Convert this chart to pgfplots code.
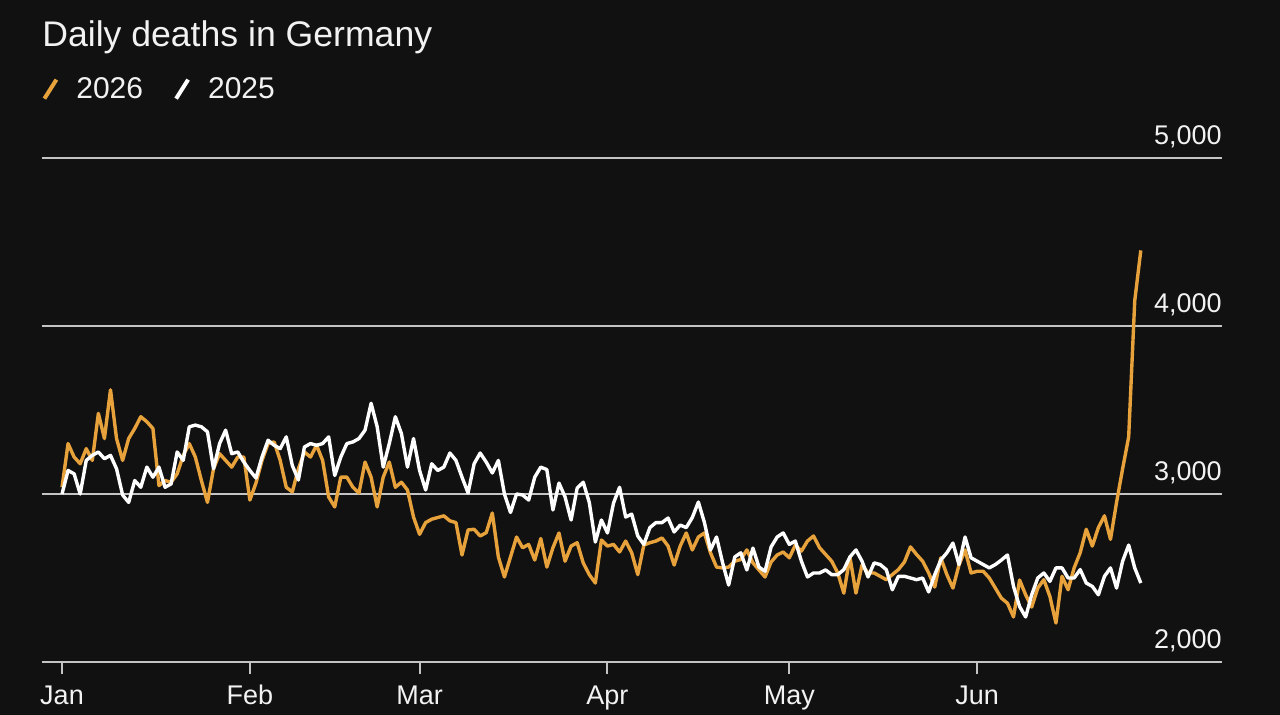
\documentclass[border=0pt]{standalone}
\usepackage{pgfplots}
\pgfplotsset{compat=1.18}
\usepackage{pgfplotstable}
\usepackage{fontspec}
\setmainfont{Liberation Sans}
\definecolor{bg}{HTML}{111111}
\definecolor{orng}{HTML}{E8A23C}
\definecolor{grd}{HTML}{C4C4C4}
\definecolor{fg}{HTML}{F2F2F2}
\pgfplotstableread{
d w o
0 3000 3040
1 3140 3300
2 3120 3220
3 3000 3180
4 3200 3270
5 3230 3200
6 3250 3480
7 3210 3330
8 3230 3620
9 3150 3330
10 2994 3200
11 2950 3330
12 3080 3390
13 3040 3460
14 3160 3430
15 3100 3390
16 3160 3050
17 3040 3080
18 3060 3070
19 3250 3120
20 3200 3230
21 3400 3300
22 3410 3220
23 3400 3080
24 3370 2950
25 3150 3150
26 3300 3240
27 3380 3200
28 3240 3160
29 3250 3220
30 3190 3220
31 3140 2964
32 3095 3065
33 3220 3200
34 3320 3300
35 3290 3310
36 3270 3200
37 3340 3040
38 3170 3012
39 3083 3150
40 3280 3250
41 3300 3220
42 3290 3290
43 3300 3200
44 3340 2982
45 3110 2923
46 3220 3100
47 3300 3100
48 3310 3040
49 3330 3006
50 3380 3190
51 3540 3100
52 3400 2923
53 3160 3100
54 3300 3190
55 3460 3040
56 3360 3070
57 3160 3024
58 3330 2863
59 3140 2760
60 3024 2830
61 3180 2850
62 3140 2860
63 3160 2870
64 3244 2840
65 3200 2830
66 3100 2637
67 3006 2786
68 3180 2790
69 3244 2750
70 3190 2770
71 3125 2887
72 3200 2625
73 3000 2506
74 2890 2625
75 3000 2744
76 2994 2680
77 2964 2700
78 3100 2607
79 3160 2735
80 3145 2565
81 2905 2680
82 3065 2768
83 2983 2600
84 2845 2690
85 3035 2710
86 3070 2590
87 2950 2520
88 2714 2470
89 2845 2726
90 2768 2690
91 2946 2700
92 3040 2655
93 2863 2720
94 2880 2650
95 2750 2520
96 2700 2696
97 2800 2710
98 2830 2720
99 2830 2738
100 2857 2690
101 2774 2577
102 2815 2690
103 2800 2768
104 2860 2667
105 2952 2744
106 2830 2768
107 2667 2650
108 2744 2565
109 2590 2560
110 2458 2565
111 2625 2600
112 2650 2610
113 2548 2667
114 2678 2590
115 2565 2548
116 2540 2506
117 2685 2595
118 2744 2637
119 2768 2655
120 2700 2620
121 2720 2696
122 2600 2660
123 2506 2720
124 2530 2750
125 2530 2680
126 2548 2640
127 2520 2600
128 2520 2530
129 2550 2410
130 2625 2625
131 2667 2410
132 2600 2577
133 2506 2530
134 2590 2530
135 2580 2510
136 2550 2490
137 2430 2520
138 2510 2550
139 2510 2595
140 2500 2685
141 2490 2640
142 2500 2600
143 2417 2530
144 2520 2446
145 2607 2620
146 2650 2520
147 2708 2440
148 2580 2577
149 2744 2667
150 2620 2530
151 2600 2540
152 2580 2540
153 2560 2500
154 2580 2440
155 2607 2380
156 2637 2350
157 2450 2268
158 2330 2488
159 2268 2400
160 2400 2327
161 2500 2440
162 2530 2490
163 2480 2390
164 2560 2232
165 2560 2510
166 2500 2430
167 2500 2560
168 2550 2650
169 2470 2790
170 2450 2690
171 2400 2800
172 2510 2870
173 2560 2730
174 2440 2950
175 2600 3150
176 2696 3340
177 2560 4150
178 2470 4450
}\deaths
\begin{document}
\begin{tikzpicture}
\fill[bg] (0,0) rectangle (640bp,357.5bp);
\useasboundingbox (0,0) rectangle (640bp,357.5bp);
\node[anchor=base west, text=fg, font=\fontsize{17.8bp}{21bp}\selectfont, inner sep=0pt] at (21bp,334bp) {Daily deaths in Germany};
\begin{axis}[
  at={(21bp,26.5bp)}, anchor=south west,
  scale only axis, width=590bp, height=252bp,
  xmin=-3.3, xmax=191.4, ymin=2000, ymax=5000,
  axis x line=bottom, axis y line=right,
  axis line style={-},
  x axis line style={draw=grd, line width=1bp},
  y axis line style={draw=none},
  xtick={0,31,59,90,120,151},
  xticklabels={Jan,Feb,Mar,Apr,May,Jun},
  ytick={2000,3000,4000,5000},
  yticklabels={{2,000},{3,000},{4,000},{5,000}},
  ymajorgrids, grid style={draw=grd, line width=1bp},
  tick align=outside,
  major tick length=6bp,
  xtick style={draw=grd, line width=1bp},
  ytick style={draw=none},
  tick label style={text=fg, font=\fontsize{13.5bp}{16bp}\selectfont},
  xticklabel style={anchor=base, yshift=-15.5bp},
  yticklabel style={anchor=base east, inner sep=0pt, yshift=6.5bp, xshift=-6bp},
  legend columns=2,
  legend style={at={(0,1)}, anchor=south west, xshift=0bp, yshift=26bp, draw=none, fill=none, text=fg,
    font=\fontsize{15bp}{18bp}\selectfont, inner sep=0pt,
    /tikz/every even column/.append style={column sep=13.5bp}},
  legend image code/.code={\path[draw=none,fill=none] (0bp,0bp) -- (14bp,0bp); \draw[#1, line width=2bp] (0bp,-4.5bp) -- (6bp,5bp);},
]
\addplot[orng, line width=1.7bp, line join=round] table[x=d, y=o] {\deaths};
\addlegendentry{2026}
\addplot[white, line width=1.7bp, line join=round, forget plot] table[x=d, y=w] {\deaths};
\addplot[white, line width=1.7bp] coordinates {(-100,0)};
\addlegendentry{2025}
\end{axis}
\end{tikzpicture}
\end{document}
